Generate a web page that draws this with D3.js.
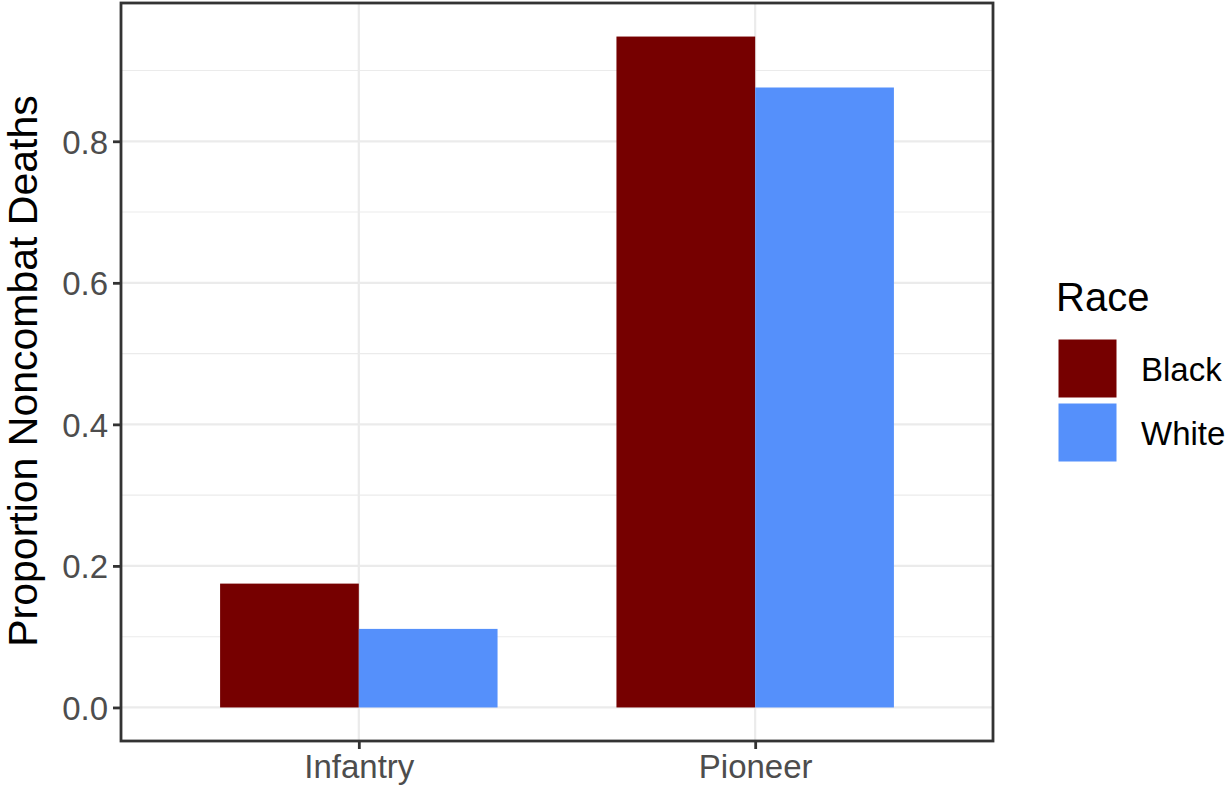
<!DOCTYPE html>
<html><head><meta charset="utf-8">
<script src="https://cdn.jsdelivr.net/npm/d3@7"></script>
<style>body{margin:0;background:#fff}svg{display:block}text{font-family:"Liberation Sans",Arial,sans-serif}</style>
</head><body><div id="c"></div>
<script>
const categories = ["Infantry", "Pioneer"];
const races = ["Black", "White"];
const blackValues = [0.175, 0.948];
const whiteValues = [0.111, 0.876];
const yTicks = [0.0, 0.2, 0.4, 0.6, 0.8];
const yMinor = [0.1, 0.3, 0.5, 0.7, 0.9];
const colors = ["#760000", "#5590fb"];

const W = 1227, H = 791;
const svg = d3.select("#c").append("svg").attr("width", W).attr("height", H);
const L = 121, R = 993, T = 3, B = 741;

const y = d3.scaleLinear().domain([-0.0474, 0.9954]).range([B, T]);
const xc = d3.scaleLinear().domain([0.4, 2.6]).range([L, R]);
const bw = xc(1.7) - xc(1.0);

const g = svg.append("g");
g.selectAll(".minor").data(yMinor).join("line")
  .attr("x1", L).attr("x2", R).attr("y1", d => y(d)).attr("y2", d => y(d))
  .attr("stroke", "#ebebeb").attr("stroke-width", 1.1);
g.selectAll(".major").data(yTicks).join("line")
  .attr("x1", L).attr("x2", R).attr("y1", d => y(d)).attr("y2", d => y(d))
  .attr("stroke", "#ebebeb").attr("stroke-width", 2.2);
g.selectAll(".vmajor").data(categories).join("line")
  .attr("x1", (d, i) => xc(i + 1)).attr("x2", (d, i) => xc(i + 1)).attr("y1", T).attr("y2", B)
  .attr("stroke", "#ebebeb").attr("stroke-width", 2.2);

const data = [];
categories.forEach((c, i) => {
  data.push({c, i, r: 0, v: blackValues[i]});
  data.push({c, i, r: 1, v: whiteValues[i]});
});
g.selectAll(".bar").data(data).join("rect")
  .attr("x", d => xc(d.i + 1) - bw / 2 + d.r * bw / 2)
  .attr("width", bw / 2)
  .attr("y", d => y(d.v)).attr("height", d => y(0) - y(d.v))
  .attr("fill", d => colors[d.r]);

svg.append("rect").attr("x", L).attr("y", T).attr("width", R - L).attr("height", B - T)
  .attr("fill", "none").attr("stroke", "#333333").attr("stroke-width", 2.8);

const ya = svg.append("g").attr("transform", `translate(${L},0)`)
  .call(d3.axisLeft(y).tickValues(yTicks).tickFormat(d3.format(".1f")).tickSize(8).tickPadding(5));
ya.select(".domain").remove();
ya.selectAll("line").attr("stroke", "#333333").attr("stroke-width", 2.8);
ya.selectAll("text").attr("fill", "#4d4d4d").style("font-size", "33px").attr("dy", "0.36em");

const xa = svg.append("g").attr("transform", `translate(0,${B})`)
  .call(d3.axisBottom(xc).tickValues([1, 2]).tickFormat((d) => categories[d - 1]).tickSize(8).tickPadding(6));
xa.select(".domain").remove();
xa.selectAll("line").attr("stroke", "#333333").attr("stroke-width", 2.8);
xa.selectAll("text").attr("fill", "#4d4d4d").style("font-size", "33px");

svg.append("text").attr("transform", `translate(37,${(T + B) / 2 - 1}) rotate(-90)`)
  .attr("text-anchor", "middle").style("font-size", "41px").attr("fill", "#000")
  .text("Proportion Noncombat Deaths");

svg.append("text").attr("x", 1056).attr("y", 311).style("font-size", "40px").attr("fill", "#000").text("Race");
const lg = svg.selectAll(".lg").data(races).join("g")
  .attr("transform", (d, i) => `translate(1058,${339 + i * 64})`);
lg.append("rect").attr("width", 59).attr("height", 59).attr("fill", (d, i) => colors[i])
  .attr("stroke", "#fff").attr("stroke-width", 1);
lg.append("text").attr("x", 83).attr("y", 30).attr("dy", "0.36em").style("font-size", "33px").attr("fill", "#000").text(d => d);
</script></body></html>
